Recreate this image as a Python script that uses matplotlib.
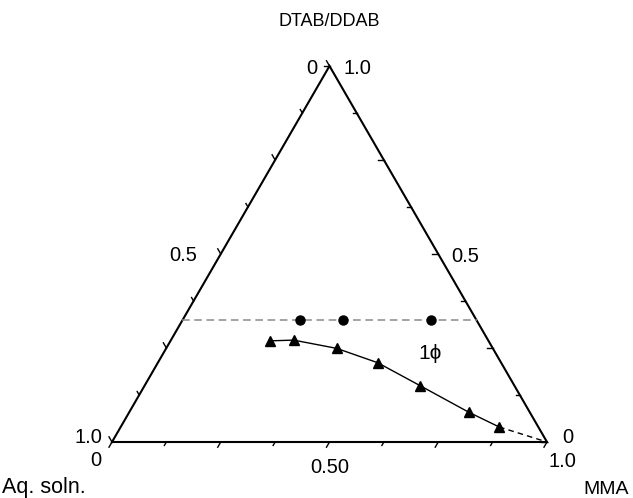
#!/usr/bin/env python3
"""Ternary phase diagram: DTAB/DDAB - MMA - aqueous solution."""

import numpy as np
import matplotlib
matplotlib.use("Agg")
import matplotlib.pyplot as plt

plt.rcParams['font.family'] = ['Liberation Sans', 'DejaVu Sans']

# compositions (weight fractions)
# dilution line at constant surfactant content
circle_surf = [0.324, 0.324, 0.324]
circle_mma = [0.270, 0.369, 0.571]

# one-phase boundary
tri_surf = [0.269, 0.271, 0.249, 0.211, 0.150, 0.079, 0.040]
tri_mma = [0.229, 0.282, 0.392, 0.505, 0.633, 0.781, 0.870]

# extension of the boundary to the MMA corner
ext_surf = [0.040, 0.0]
ext_mma = [0.870, 1.0]

tick_fracs = [i / 8 for i in range(9)]

W, H = 633, 498
# pixel positions of the triangle corners
X0, X1, Y0, Y1 = 112, 547, 442, 66


def to_xy(surf, mma):
    surf = np.asarray(surf, dtype=float)
    mma = np.asarray(mma, dtype=float)
    return mma + surf / 2, surf


fig = plt.figure(figsize=(W / 100, H / 100), dpi=100)
ax = fig.add_axes([0, 0, 1, 1])
sx = X1 - X0
sy = Y0 - Y1
ax.set_xlim(-X0 / sx, (W - X0) / sx)
ax.set_ylim(-(H - Y0) / sy, Y0 / sy)
ax.axis('off')

# triangle frame
ax.plot([0, 1, 0.5, 0], [0, 0, 1, 0], color='black', lw=1.5,
        solid_joinstyle='miter')

# ticks (lengths in pixels)
edge_len = np.hypot(0.5 * sx, sy)
for i, f in enumerate(tick_fracs):
    L = 6 if i % 2 == 0 else 4
    # left edge, ticks parallel to right edge, outward
    bx, by = 0.5 * f, f
    ax.plot([bx, bx - 0.5 * L / edge_len], [by, by + L / edge_len],
            color='black', lw=1)
    # right edge, horizontal ticks inward
    bx, by = 1 - 0.5 * f, f
    ax.plot([bx, bx - L / sx], [by, by], color='black', lw=1)
    # bottom edge, ticks parallel to left edge, outward
    bx, by = f, 0
    ax.plot([bx, bx - 0.5 * L / edge_len], [by, by - L / edge_len],
            color='black', lw=1)

# dashed dilution line across the triangle
s = circle_surf[0]
ax.plot([s / 2, 1 - s / 2], [s, s], color='#8a8a8a', lw=1.1,
        dashes=(5, 3))

x, y = to_xy(circle_surf, circle_mma)
ax.plot(x, y, 'o', color='black', ms=6.5, ls='none')

x, y = to_xy(tri_surf, tri_mma)
ax.plot(x, y, '-', color='black', lw=1)
ax.plot(x, y, '^', color='black', ms=7, ls='none')

x, y = to_xy(ext_surf, ext_mma)
ax.plot(x, y, color='black', lw=1, dashes=(4, 3))


def label(px, py, s, size=14.5):
    fig.text(px / W, 1 - py / H, s, ha='center', va='center',
             fontsize=size)


label(329, 22, 'DTAB/DDAB', 13)
label(312, 68, '0')
label(357, 68, '1.0')
label(88, 437, '1.0')
label(96, 460, '0')
label(183, 255, '0.5')
label(465, 256, '0.5')
label(568, 437, '0')
label(562, 461, '1.0')
label(330, 467, '0.50')
label(44, 487, 'Aq. soln.', 15.5)
label(606, 489, 'MMA', 14)
label(430, 353, '1\u03d5', 15)

fig.savefig('out.png', dpi=100)
